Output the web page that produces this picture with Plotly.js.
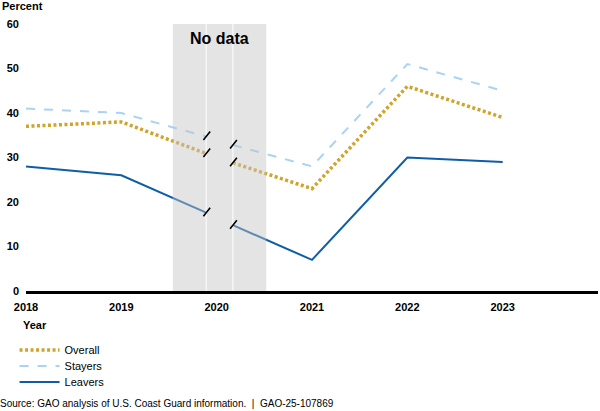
<!DOCTYPE html>
<html>
<head>
<meta charset="utf-8">
<script src="https://cdn.plot.ly/plotly-3.0.1.min.js"></script>
<style>html,body{margin:0;padding:0;background:#fff;}#chart{width:600px;height:411px;}</style>
</head>
<body>
<div id="chart"></div>
<script>
// Data
const xValues = [2018, 2019, 2019.89, null, 2020.17, 2021, 2022, 2023];
const overall = [37, 38, 30.9, null, 28.8, 23, 46, 39];
const stayers = [41, 40, 34.7, null, 32.8, 28, 51, 45];
const leavers = [28, 26, 17.6, null, 14.8, 7, 30, 29];
const seriesNames = ["Overall", "Stayers", "Leavers"];
const tickYears = [2018, 2019, 2020, 2021, 2022, 2023];
const yTicks = [0, 10, 20, 30, 40, 50, 60];
const noDataRange = [2019.54, 2020.52];
const breakX = [2019.89, 2020.17];

const FONT = "Arial, 'Liberation Sans', sans-serif";
const colors = {Overall: "#d1a32a", Stayers: "#a9d3f5", Leavers: "#0d5ea6"};

const traces = [
  {x: xValues, y: overall, name: seriesNames[0], mode: "lines", connectgaps: false, legend: "legend",
   line: {color: colors.Overall, width: 3.5, dash: "3px,2.5px"}},
  {x: xValues, y: stayers, name: seriesNames[1], mode: "lines", connectgaps: false, legend: "legend2",
   line: {color: colors.Stayers, width: 2, dash: "dash"}},
  {x: xValues, y: leavers, name: seriesNames[2], mode: "lines", connectgaps: false, legend: "legend3",
   line: {color: colors.Leavers, width: 2}}
];

// break slashes at the ends of each gap
const annotations = [];
[overall, stayers, leavers].forEach(arr => {
  xValues.forEach((xv, i) => {
    if (xv === null) return;
    if (xValues[i + 1] === null || xValues[i - 1] === null) {
      annotations.push({x: xv, y: arr[i], xref: "x", yref: "y", text: "", showarrow: true,
        arrowhead: 0, arrowwidth: 1.6, arrowcolor: "#000", ax: -8, ay: 10, xshift: 4, yshift: 5,
        standoff: 0, startstandoff: 0});
    }
  });
});
annotations.push(
  {x: (noDataRange[0] + noDataRange[1]) / 2, y: 1, xref: "x", yref: "paper", yanchor: "top",
   text: "<b>No data</b>", showarrow: false, yshift: -4, font: {family: FONT, size: 16, color: "#000"}},
  {x: 0, y: 1, xref: "paper", yref: "paper", xanchor: "left", yanchor: "bottom",
   text: "<b>Percent</b>", showarrow: false, xshift: -26, yshift: 10, font: {family: FONT, size: 11, color: "#000"}},
  {x: 0, y: 0, xref: "paper", yref: "paper", xanchor: "left", yanchor: "middle",
   text: "<b>Year</b>", showarrow: false, xshift: -5, yshift: -34, font: {family: FONT, size: 11, color: "#000"}},
  {x: 0, y: 0, xref: "paper", yref: "paper", xanchor: "left", yanchor: "middle",
   text: "Source: GAO analysis of U.S. Coast Guard information.  |  GAO-25-107869", showarrow: false,
   xshift: -28, yshift: -112, font: {family: FONT, size: 10, color: "#000"}}
);

const shapes = [
  {type: "rect", xref: "x", yref: "paper", x0: noDataRange[0], x1: noDataRange[1], y0: 0, y1: 1,
   fillcolor: "#c4c4c4", opacity: 0.45, line: {width: 0}, layer: "above"}
];
breakX.forEach(bx => shapes.push({type: "line", xref: "x", yref: "paper", x0: bx, x1: bx, y0: 0, y1: 1,
  line: {color: "#ffffff", width: 1}, layer: "above"}));

function legendAt(y) {
  return {x: -0.02, xanchor: "left", y: y, yanchor: "middle", orientation: "v",
    font: {family: FONT, size: 11, color: "#000"}, itemwidth: 40, bgcolor: "rgba(0,0,0,0)"};
}

const layout = {
  width: 600, height: 411,
  margin: {l: 26, r: 2, t: 24, b: 120},
  paper_bgcolor: "#fff", plot_bgcolor: "#fff",
  font: {family: FONT, size: 11, color: "#000"},
  showlegend: true,
  legend: legendAt(-0.221),
  legend2: legendAt(-0.281),
  legend3: legendAt(-0.341),
  xaxis: {range: [2018, 2024], tickvals: tickYears, ticktext: tickYears.map(y => "<b>" + y + "</b>"),
    showgrid: false, zeroline: false, showline: true, linecolor: "#000", linewidth: 3,
    ticks: "", ticklabelstandoff: 4, tickfont: {family: FONT, size: 11, color: "#000"}, fixedrange: true},
  yaxis: {range: [0, 60], tickvals: yTicks, ticktext: yTicks.map(v => "<b>" + v + "</b>"),
    showgrid: false, zeroline: false, showline: false, ticks: "", ticklabelstandoff: 6,
    tickfont: {family: FONT, size: 11, color: "#000"}, fixedrange: true},
  shapes: shapes,
  annotations: annotations
};

Plotly.newPlot("chart", traces, layout, {displayModeBar: false, staticPlot: true});
</script>
</body>
</html>
